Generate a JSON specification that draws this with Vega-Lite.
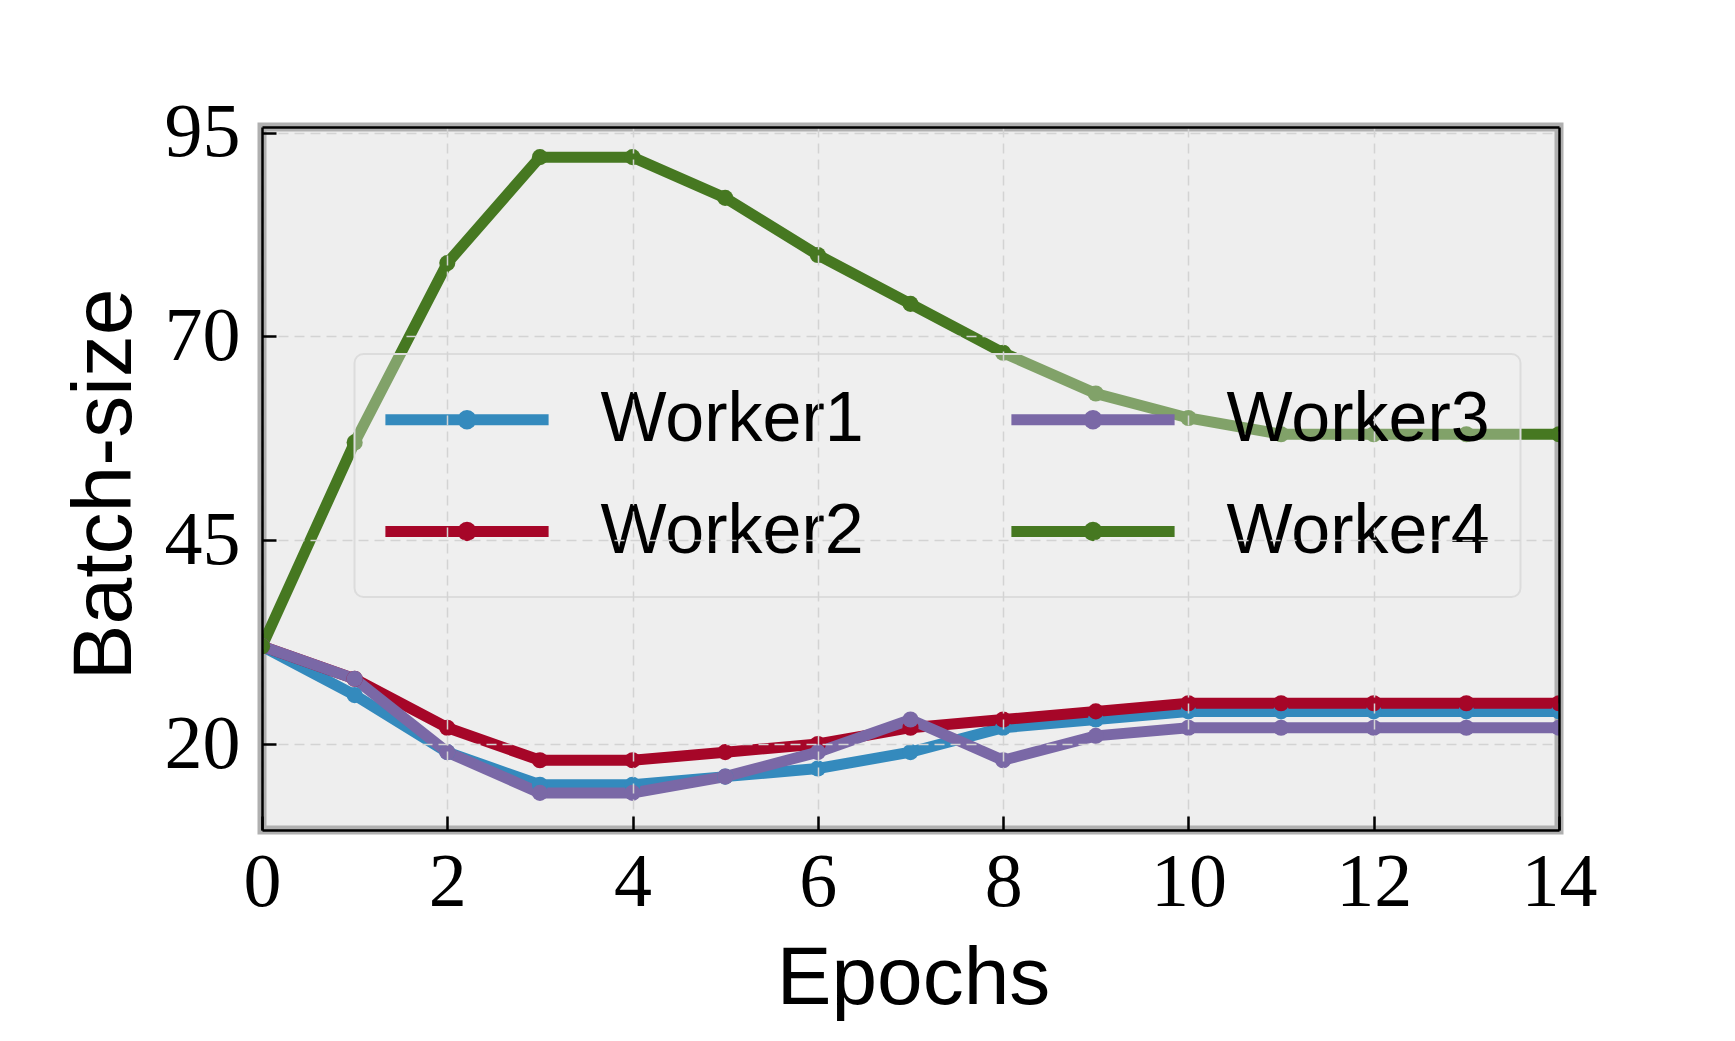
{
  "$schema": "https://vega.github.io/schema/vega-lite/v6.json",
  "width": 1297,
  "height": 703,
  "autosize": {"type": "none"},
  "padding": {"left": 262, "top": 127, "right": 176, "bottom": 211},
  "background": "white",
  "config": {
    "view": {"fill": "#eeeeee", "stroke": "#b0b0b0", "strokeWidth": 9}
  },
  "data": {
    "values": [
      {"worker": "Worker1", "epoch": 0, "batch": 32},
      {"worker": "Worker1", "epoch": 1, "batch": 26},
      {"worker": "Worker1", "epoch": 2, "batch": 19},
      {"worker": "Worker1", "epoch": 3, "batch": 15},
      {"worker": "Worker1", "epoch": 4, "batch": 15},
      {"worker": "Worker1", "epoch": 5, "batch": 16},
      {"worker": "Worker1", "epoch": 6, "batch": 17},
      {"worker": "Worker1", "epoch": 7, "batch": 19},
      {"worker": "Worker1", "epoch": 8, "batch": 22},
      {"worker": "Worker1", "epoch": 9, "batch": 23},
      {"worker": "Worker1", "epoch": 10, "batch": 24},
      {"worker": "Worker1", "epoch": 11, "batch": 24},
      {"worker": "Worker1", "epoch": 12, "batch": 24},
      {"worker": "Worker1", "epoch": 13, "batch": 24},
      {"worker": "Worker1", "epoch": 14, "batch": 24},
      {"worker": "Worker2", "epoch": 0, "batch": 32},
      {"worker": "Worker2", "epoch": 1, "batch": 28},
      {"worker": "Worker2", "epoch": 2, "batch": 22},
      {"worker": "Worker2", "epoch": 3, "batch": 18},
      {"worker": "Worker2", "epoch": 4, "batch": 18},
      {"worker": "Worker2", "epoch": 5, "batch": 19},
      {"worker": "Worker2", "epoch": 6, "batch": 20},
      {"worker": "Worker2", "epoch": 7, "batch": 22},
      {"worker": "Worker2", "epoch": 8, "batch": 23},
      {"worker": "Worker2", "epoch": 9, "batch": 24},
      {"worker": "Worker2", "epoch": 10, "batch": 25},
      {"worker": "Worker2", "epoch": 11, "batch": 25},
      {"worker": "Worker2", "epoch": 12, "batch": 25},
      {"worker": "Worker2", "epoch": 13, "batch": 25},
      {"worker": "Worker2", "epoch": 14, "batch": 25},
      {"worker": "Worker3", "epoch": 0, "batch": 32},
      {"worker": "Worker3", "epoch": 1, "batch": 28},
      {"worker": "Worker3", "epoch": 2, "batch": 19},
      {"worker": "Worker3", "epoch": 3, "batch": 14},
      {"worker": "Worker3", "epoch": 4, "batch": 14},
      {"worker": "Worker3", "epoch": 5, "batch": 16},
      {"worker": "Worker3", "epoch": 6, "batch": 19},
      {"worker": "Worker3", "epoch": 7, "batch": 23},
      {"worker": "Worker3", "epoch": 8, "batch": 18},
      {"worker": "Worker3", "epoch": 9, "batch": 21},
      {"worker": "Worker3", "epoch": 10, "batch": 22},
      {"worker": "Worker3", "epoch": 11, "batch": 22},
      {"worker": "Worker3", "epoch": 12, "batch": 22},
      {"worker": "Worker3", "epoch": 13, "batch": 22},
      {"worker": "Worker3", "epoch": 14, "batch": 22},
      {"worker": "Worker4", "epoch": 0, "batch": 32},
      {"worker": "Worker4", "epoch": 1, "batch": 57},
      {"worker": "Worker4", "epoch": 2, "batch": 79},
      {"worker": "Worker4", "epoch": 3, "batch": 92},
      {"worker": "Worker4", "epoch": 4, "batch": 92},
      {"worker": "Worker4", "epoch": 5, "batch": 87},
      {"worker": "Worker4", "epoch": 6, "batch": 80},
      {"worker": "Worker4", "epoch": 7, "batch": 74},
      {"worker": "Worker4", "epoch": 8, "batch": 68},
      {"worker": "Worker4", "epoch": 9, "batch": 63},
      {"worker": "Worker4", "epoch": 10, "batch": 60},
      {"worker": "Worker4", "epoch": 11, "batch": 58},
      {"worker": "Worker4", "epoch": 12, "batch": 58},
      {"worker": "Worker4", "epoch": 13, "batch": 58},
      {"worker": "Worker4", "epoch": 14, "batch": 58}
    ]
  },
  "layer": [
    {
      "mark": {"type": "line", "strokeWidth": 11, "clip": true},
      "encoding": {
        "x": {
          "field": "epoch", "type": "quantitative",
          "scale": {"domain": [0, 14], "nice": false, "zero": false},
          "axis": {
            "orient": "bottom",
            "values": [0, 2, 4, 6, 8, 10, 12, 14], "format": "d",
            "labelFont": "Liberation Serif", "labelFontSize": 76, "labelColor": "black",
            "labelPadding": 29, "labelFlush": false, "labelOverlap": false,
            "tickSize": -14, "tickWidth": 2.5, "tickColor": "black",
            "domainColor": "black", "domainWidth": 2.5,
            "grid": true, "gridColor": "#d3d3d3", "gridDash": [10, 6], "gridWidth": 1.5,
            "title": "Epochs", "titleFont": "Liberation Sans", "titleFontSize": 82,
            "titleFontWeight": "normal", "titleColor": "black",
            "titleX": 651, "titleY": 173, "titleBaseline": "alphabetic", "titleAlign": "center",
            "zindex": 1
          }
        },
        "y": {
          "field": "batch", "type": "quantitative",
          "scale": {"domain": [9.45, 95.7], "nice": false, "zero": false},
          "axis": {
            "orient": "left",
            "values": [20, 45, 70, 95], "format": "d",
            "labelFont": "Liberation Serif", "labelFontSize": 76, "labelColor": "black",
            "labelPadding": 36, "labelFlush": false, "labelOverlap": false,
            "tickSize": -14, "tickWidth": 2.5, "tickColor": "black",
            "domainColor": "black", "domainWidth": 2.5,
            "grid": true, "gridColor": "#d3d3d3", "gridDash": [10, 6], "gridWidth": 1.5,
            "title": "Batch-size", "titleFont": "Liberation Sans", "titleFontSize": 84,
            "titleFontWeight": "normal", "titleColor": "black",
            "titleX": -132, "titleY": 357, "titleBaseline": "alphabetic", "titleAlign": "center", "titleAngle": -90,
            "zindex": 1
          }
        },
        "color": {
          "field": "worker", "type": "nominal",
          "scale": {"domain": ["Worker1", "Worker2", "Worker3", "Worker4"], "range": ["#348ABD", "#A60628", "#7A68A6", "#467821"]},
          "legend": {
            "orient": "none", "legendX": 92.5, "legendY": 227,
            "title": null, "columns": 2,
            "symbolType": "M-2.72,0L2.72,0M0.14,0A0.14,0.14,0,1,1,-0.14,0A0.14,0.14,0,1,1,0.14,0Z",
            "symbolSize": 3600, "symbolStrokeWidth": 11, "symbolOffset": 47, "symbolOpacity": 1,
            "labelFont": "Liberation Sans", "labelFontSize": 70, "labelColor": "black",
            "labelOffset": 98, "labelLimit": 0,
            "rowPadding": 41, "columnPadding": 124, "padding": 30,
            "fillColor": "rgba(242,242,242,0.35)", "strokeColor": "#dcdcdc", "cornerRadius": 9,
            "encode": {
              "legend": {
                "update": {"strokeWidth": {"value": 2}}
              },
              "symbols": {
                "update": {
                  "stroke": {"scale": "color", "field": "value"},
                  "fill": {"scale": "color", "field": "value"},
                  "strokeWidth": {"value": 11}
                }
              }
            }
          }
        }
      }
    },
    {
      "mark": {"type": "point", "filled": true, "size": 260, "opacity": 1, "clip": true},
      "encoding": {
        "x": {
          "field": "epoch", "type": "quantitative",
          "axis": {"orient": "top", "labels": false, "ticks": false, "grid": false, "title": null, "domain": true, "domainColor": "black", "domainWidth": 2.5, "zindex": 1}
        },
        "y": {
          "field": "batch", "type": "quantitative",
          "axis": {"orient": "right", "labels": false, "ticks": false, "grid": false, "title": null, "domain": true, "domainColor": "black", "domainWidth": 2.5, "zindex": 1}
        },
        "color": {
          "field": "worker", "type": "nominal",
          "scale": {"domain": ["Worker1", "Worker2", "Worker3", "Worker4"], "range": ["#348ABD", "#A60628", "#7A68A6", "#467821"]}
        }
      }
    }
  ],
  "resolve": {"axis": {"x": "independent", "y": "independent"}}
}
